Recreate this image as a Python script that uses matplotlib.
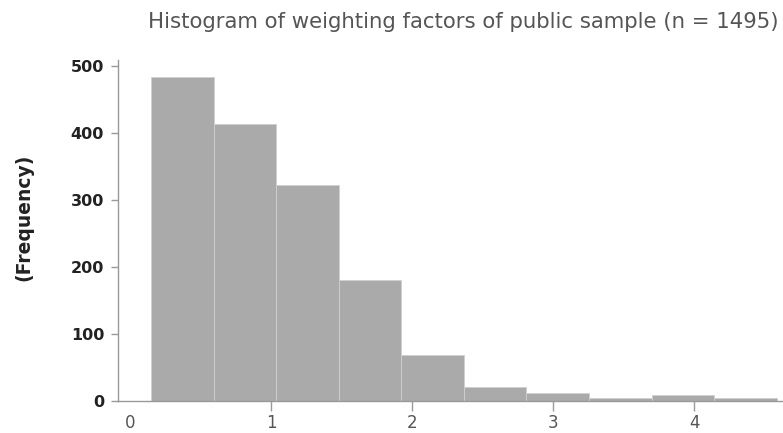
import matplotlib
matplotlib.use('Agg')
import matplotlib.pyplot as plt

# histogram of weighting factors
bin_edges = [0.149, 0.593, 1.036, 1.48, 1.923, 2.367, 2.81, 3.254, 3.698, 4.141, 4.585]
counts = [483, 413, 322, 180, 68, 21, 12, 5, 9, 5]
x_ticks = [0, 1, 2, 3, 4]
y_ticks = [0, 100, 200, 300, 400, 500]
title = 'Histogram of weighting factors of public sample (n = 1495)'

plt.rcParams['font.family'] = ['DejaVu Sans']

fig = plt.figure(figsize=(7.83, 4.33), dpi=100)
ax = fig.add_axes([0.1507, 0.0739, 0.8493, 0.7875])

centers = [(bin_edges[i] + bin_edges[i+1]) / 2. for i in range(len(counts))]
ax.hist(centers, bins=bin_edges, weights=counts, color='#aaaaaa',
        edgecolor='#d0d0d0', linewidth=0.6)

ax.set_xlim(-0.085, 4.628)
ax.set_ylim(0, 509)
ax.set_xticks(x_ticks)
ax.set_yticks(y_ticks)
ax.set_xticklabels([str(v) for v in x_ticks], fontsize=12, color='#555555')
ax.set_yticklabels([str(v) for v in y_ticks], fontsize=11.5, color='#222222',
                   fontweight='bold')
ax.tick_params(axis='x', length=7, width=1, color='#999999', pad=2)
ax.tick_params(axis='y', length=5, width=1, color='#999999', pad=5)
ax.xaxis.get_major_ticks()[0].tick1line.set_visible(False)

for s in ['top', 'right']:
    ax.spines[s].set_visible(False)
for s in ['left', 'bottom']:
    ax.spines[s].set_color('#999999')
    ax.spines[s].set_linewidth(1)

ax.set_ylabel('(Frequency)', fontsize=13.5, fontweight='bold', color='#222222')
ax.yaxis.set_label_coords(-0.128, 0.54)
fig.text(148/783., 1 - 22/433., title, fontsize=15.3, color='#555555',
         ha='left', va='center')

fig.savefig('out.png', dpi=100)
